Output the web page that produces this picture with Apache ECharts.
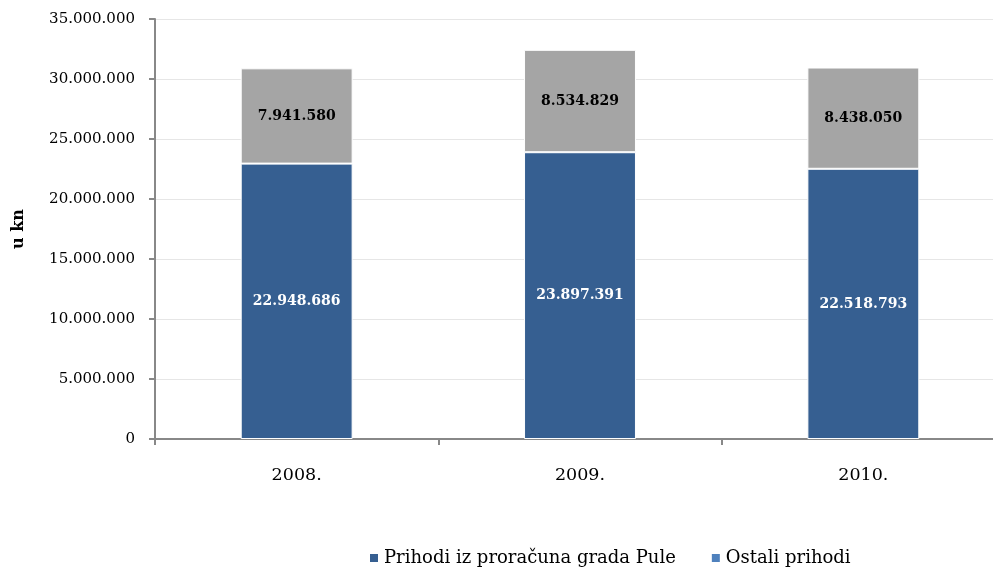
<!DOCTYPE html>
<html><head><meta charset="utf-8">
<script src="https://cdn.jsdelivr.net/npm/echarts@6/dist/echarts.min.js"></script>
<style>html,body{margin:0;padding:0;background:#fff;overflow:hidden;width:993px;height:567px}#c{width:1010px;height:567px}</style>
</head><body><div id="c"></div>
<script>
const categories = ['2008.', '2009.', '2010.'];
const seriesNames = ['Prihodi iz proračuna grada Pule', 'Ostali prihodi'];
const prihodiGrad = [22948686, 23897391, 22518793];
const ostaliPrihodi = [7941580, 8534829, 8438050];

function fmt(v){ return String(Math.round(v)).replace(/\B(?=(\d{3})+(?!\d))/g, '.'); }
const F = 'DejaVu Serif';
const chart = echarts.init(document.getElementById('c'));
chart.setOption({
  animation: false,
  textStyle: {fontFamily: F},
  grid: {left: 155, right: 5, top: 19, height: 420, containLabel: false},
  legend: {
    left: 363, top: 544, itemWidth: 10, itemHeight: 10, itemGap: 34,
    textStyle: {fontFamily: F, fontSize: 18, color: '#000'},
    data: [
      {name: seriesNames[0], icon: 'rect', itemStyle: {color: '#365f91'}},
      {name: seriesNames[1], icon: 'rect', itemStyle: {color: '#4f81bd'}}
    ]
  },
  xAxis: {
    type: 'category', data: categories,
    axisLine: {lineStyle: {color: '#888', width: 2}},
    axisTick: {show: true, length: 6, lineStyle: {color: '#888', width: 2}},
    axisLabel: {fontFamily: F, fontSize: 17.5, color: '#000', margin: 27}
  },
  yAxis: {
    type: 'value', min: 0, max: 35000000, interval: 5000000,
    name: 'u kn', nameLocation: 'middle', nameGap: 128, nameRotate: 90,
    nameTextStyle: {fontFamily: F, fontSize: 16, fontWeight: 'bold', color: '#000'},
    axisLine: {show: true, lineStyle: {color: '#888', width: 2}},
    axisTick: {show: true, length: 6, lineStyle: {color: '#888', width: 2}},
    splitLine: {lineStyle: {color: '#e6e6e6', width: 1}},
    axisLabel: {fontFamily: F, fontSize: 15, color: '#000', margin: 20, formatter: v => fmt(v)}
  },
  series: [
    {name: seriesNames[0], type: 'bar', stack: 't', data: prihodiGrad, barWidth: '39.5%',
     itemStyle: {color: '#365f91', borderColor: '#fff', borderWidth: 1},
     label: {show: true, position: 'inside', color: '#fff', fontFamily: F, fontWeight: 'bold', fontSize: 14, formatter: p => fmt(p.value)}},
    {name: seriesNames[1], type: 'bar', stack: 't', data: ostaliPrihodi, barWidth: '39.5%',
     itemStyle: {color: '#a5a5a5', borderColor: '#fff', borderWidth: 1},
     label: {show: true, position: 'inside', color: '#000', fontFamily: F, fontWeight: 'bold', fontSize: 14, formatter: p => fmt(p.value)}}
  ]
});
</script></body></html>
